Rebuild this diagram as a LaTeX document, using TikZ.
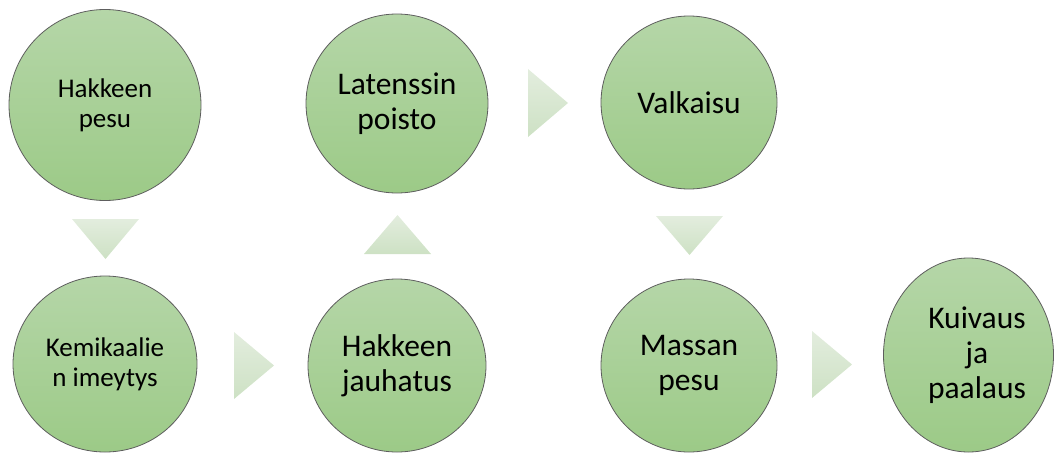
\documentclass[tikz,border=0pt]{standalone}
\usepackage{fontspec}
\setmainfont{Carlito}
\usetikzlibrary{shapes.geometric}
\definecolor{ctop}{HTML}{B5D6A8}
\definecolor{cbot}{HTML}{9CCA87}
\definecolor{cedge}{HTML}{5E5E5E}
\definecolor{ttop}{HTML}{E3EDDE}
\definecolor{tbot}{HTML}{CDE1C4}
\begin{document}
\begin{tikzpicture}[x=1pt,y=-1pt]
\useasboundingbox (0,0) rectangle (1060,453);
\tikzset{
  proc/.style={ellipse, draw=cedge, line width=0.8pt, top color=ctop, bottom color=cbot,
    inner sep=0pt, align=center, text=black, font=\fontsize{31.5}{35}\selectfont},
  procsmall/.style={proc, font=\fontsize{27}{30}\selectfont},
  tri/.style={top color=ttop, bottom color=tbot, draw=none}
}
\node[procsmall, minimum width=192pt, minimum height=191pt] (c1) at (105,105) {Hakkeen\\pesu};
\node[procsmall, minimum width=184pt, minimum height=176pt] (c2) at (105,364) {Kemikaalie\\n imeytys};
\node[proc, minimum width=178pt, minimum height=173pt] (c3) at (397,365.5) {Hakkeen\\jauhatus};
\node[proc, minimum width=182pt, minimum height=179pt] (c4) at (397,103.5) {Latenssin\\poisto};
\node[proc, minimum width=176pt, minimum height=173pt] (c5) at (689,102.5) {Valkaisu};
\node[proc, minimum width=176pt, minimum height=173pt] (c6) at (689,365.5) {Massan\\pesu};
\node[proc, minimum width=170pt, minimum height=194pt] (c7) at (968.5,355) {\hspace*{17pt}Kuivaus\\\hspace*{17pt}ja\\\hspace*{17pt}paalaus};
% arrows between steps
\path[tri] (72,219) -- (139,219) -- (105.5,259) -- cycle;
\path[tri] (234,332) -- (274,365.5) -- (234,399) -- cycle;
\path[tri] (364,254) -- (397.5,215) -- (431,254) -- cycle;
\path[tri] (528,69) -- (568,103) -- (528,137) -- cycle;
\path[tri] (656,216) -- (723,216) -- (689.5,255) -- cycle;
\path[tri] (812,331) -- (852,364.5) -- (812,398) -- cycle;
\end{tikzpicture}
\end{document}
